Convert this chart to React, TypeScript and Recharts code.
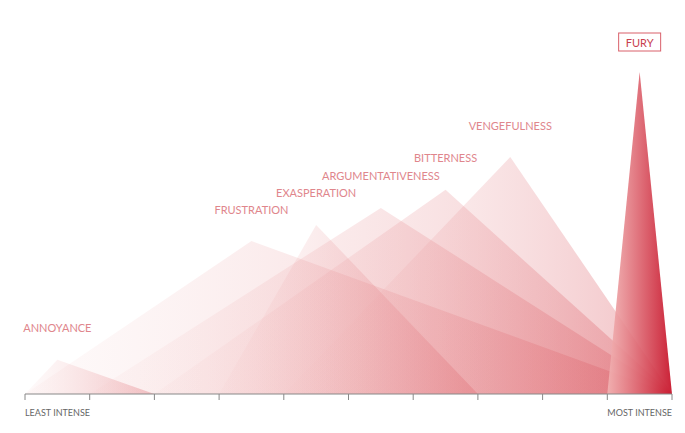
import { Area, ComposedChart, Scatter, XAxis, YAxis } from "recharts";

// emotions, in order of intensity
const emotions = [
  "ANNOYANCE",
  "FRUSTRATION",
  "EXASPERATION",
  "ARGUMENTATIVENESS",
  "BITTERNESS",
  "VENGEFULNESS",
  "FURY",
];
const startX = [0, 0, 3, 1, 2, 4, 9];
const peakX = [0.5, 3.5, 4.5, 5.5, 6.5, 7.5, 9.5];
const endX = [2, 10, 7, 10, 10, 10, 10];
const peakY = [10.6, 47.5, 52.5, 57.8, 63.4, 73.6, 100];

const axisTicks = [0, 1, 2, 3, 4, 5, 6, 7, 8, 9, 10];
const leastLabel = "LEAST INTENSE";
const mostLabel = "MOST INTENSE";

const FONT = "Lato, 'Open Sans', sans-serif";

const triangles = emotions.map((name, i) => [
  { x: startX[i], y: 0 },
  { x: peakX[i], y: peakY[i] },
  { x: endX[i], y: 0 },
]);

const peaks = emotions.map((name, i) => ({ x: peakX[i], y: peakY[i], name }));

const PeakLabel = (props: any) => {
  const { cx, cy, payload } = props;
  if (payload.name === "FURY") {
    return (
      <g>
        <rect x={cx - 21} y={cy - 39} width={42} height={18} fill="#fff" stroke="#d9606a" strokeWidth={1} />
        <text x={cx} y={cy - 30} textAnchor="middle" dominantBaseline="central" fontFamily={FONT} fontSize={11} fill="#c8404e">
          {payload.name}
        </text>
      </g>
    );
  }
  return (
    <text x={cx} y={cy - 32} textAnchor="middle" dominantBaseline="central" fontFamily={FONT} fontSize={11} fill="#e0868c">
      {payload.name}
    </text>
  );
};

const EndTick = (props: any) => {
  const { x, y, payload } = props;
  if (payload.value === 0) {
    return (
      <text x={x} y={y + 10} textAnchor="start" dominantBaseline="central" fontFamily={FONT} fontSize={9} fill="#666">
        {leastLabel}
      </text>
    );
  }
  if (payload.value === 10) {
    return (
      <text x={x} y={y + 10} textAnchor="end" dominantBaseline="central" fontFamily={FONT} fontSize={9} fill="#666">
        {mostLabel}
      </text>
    );
  }
  return <g />;
};

export default function App() {
  return (
    <ComposedChart width={680} height={425} margin={{ top: 64, right: 16, bottom: 9, left: 17 }}>
      <defs>
        {emotions.map((name, i) =>
          name === "FURY" ? (
            <linearGradient key={name} id={`g${i}`} x1="0" y1="0" x2="1" y2="0">
              <stop offset="0%" stopColor="#f2b4b4" stopOpacity={0.9} />
              <stop offset="100%" stopColor="#c8162c" stopOpacity={0.95} />
            </linearGradient>
          ) : (
            <linearGradient key={name} id={`g${i}`} x1="0" y1="0" x2="1" y2="0">
              <stop offset="0%" stopColor="#f4c4c4" stopOpacity={0.08} />
              <stop offset="100%" stopColor="#d9515b" stopOpacity={0.36} />
            </linearGradient>
          )
        )}
      </defs>
      <XAxis
        dataKey="x"
        type="number"
        domain={[0, 10]}
        ticks={axisTicks}
        interval={0}
        height={30}
        axisLine={{ stroke: "#888" }}
        tickLine={{ stroke: "#888" }}
        tickSize={6}
        tick={EndTick}
      />
      <YAxis type="number" domain={[0, 100]} hide />
      {emotions.map((name, i) => (
        <Area
          key={name}
          data={triangles[i]}
          dataKey="y"
          type="linear"
          stroke="none"
          fill={`url(#g${i})`}
          fillOpacity={1}
          isAnimationActive={false}
          dot={false}
          activeDot={false}
        />
      ))}
      <Scatter data={peaks} dataKey="y" shape={PeakLabel} isAnimationActive={false} />
    </ComposedChart>
  );
}
